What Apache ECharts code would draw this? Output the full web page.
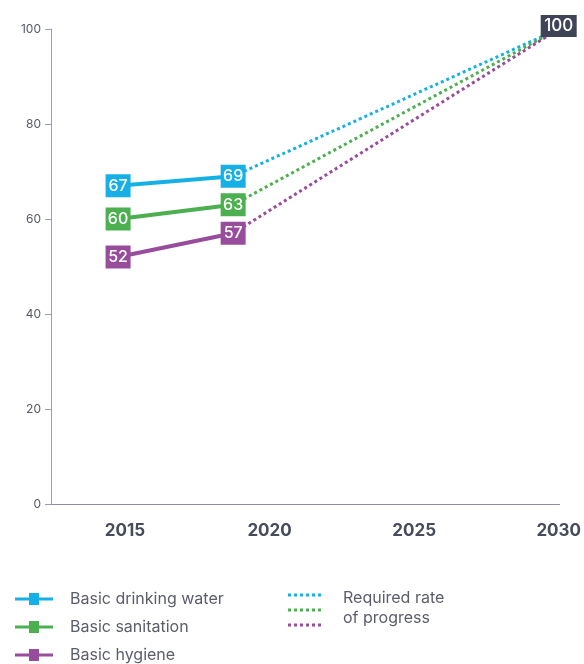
<!DOCTYPE html>
<html><head><meta charset="utf-8">
<script src="https://cdn.jsdelivr.net/npm/echarts@6/dist/echarts.min.js"></script>
<style>html,body{margin:0;padding:0;background:#fff}#c{width:584px;height:664px}</style>
</head><body><div id="c"></div>
<script>
// tick labels on x axis
const tickYears = [2015, 2020, 2025, 2030];
const yTicks = [0, 20, 40, 60, 80, 100];
const obsX = [2014.76, 2018.74];
const targetX = 2030;
const targetValue = 100;
const names = ['Basic drinking water', 'Basic sanitation', 'Basic hygiene'];
const water = [67, 69];
const sanitation = [60, 63];
const hygiene = [52, 57];
const colors = ['#17b0e6', '#4caf50', '#984c9c'];

const values = [water, sanitation, hygiene];
const series = [];
values.forEach((v, i) => {
  series.push({
    name: names[i] + ' (required)', type: 'line', showSymbol: false, silent: true,
    data: [[obsX[1], v[1]], [targetX, targetValue]],
    lineStyle: { color: colors[i], width: 3, type: [3, 3] }, itemStyle: { color: colors[i] }, z: 2
  });
});
values.forEach((v, i) => {
  series.push({
    name: names[i], type: 'line', symbol: 'rect', symbolSize: [25, 23], showSymbol: true,
    data: obsX.map((x, j) => [x, v[j]]),
    lineStyle: { color: colors[i], width: 4 }, itemStyle: { color: colors[i], opacity: 1 },
    label: { show: true, position: 'inside', color: '#fff', fontSize: 16, fontWeight: 500,
      fontFamily: 'Inter', formatter: p => p.value[1] }, z: 5
  });
});
series.push({
  name: 'target', type: 'scatter', symbol: 'rect', symbolSize: [36, 22], symbolOffset: [0, -3],
  data: [[targetX, targetValue]], itemStyle: { color: '#3f4457', opacity: 1 },
  label: { show: true, position: 'inside', color: '#fff', fontSize: 17, fontWeight: 500,
    fontFamily: 'Inter', formatter: p => p.value[1] }, z: 6
});

const legendIcon = 'path://M0,5.5 L14,5.5 L14,1 L24,1 L24,5.5 L38,5.5 L38,8.5 L24,8.5 L24,13 L14,13 L14,8.5 L0,8.5 Z';
const legendTops = [591, 619, 647];
const legends = names.map((n, i) => ({
  data: [n], orient: 'vertical', left: 15, top: legendTops[i], padding: 0,
  itemWidth: 38, itemHeight: 14, icon: legendIcon, selectedMode: false,
  textStyle: { color: '#5b5d6b', fontSize: 16, fontFamily: 'Inter', padding: [0, 0, 0, 12] }
}));

const chart = echarts.init(document.getElementById('c'), null, { renderer: 'canvas' });
chart.setOption({
  animation: false,
  grid: { left: 51, right: 18, top: 29, bottom: 160 },
  xAxis: {
    type: 'value', min: 2012.44, max: 2030.03,
    axisLine: { show: true, lineStyle: { color: '#8f8ea8', width: 1 } },
    axisTick: { show: false }, splitLine: { show: false },
    axisLabel: { customValues: tickYears, formatter: v => String(v), margin: 18, color: '#474b5a', fontSize: 17,
      fontWeight: 'bold', fontFamily: 'Inter' }
  },
  yAxis: {
    type: 'value', min: 0, max: 100, interval: 20,
    axisLine: { show: true, lineStyle: { color: '#9d9cb8', width: 1 } },
    axisTick: { show: true, length: 6, lineStyle: { color: '#9d9cb8' } },
    splitLine: { show: false },
    axisLabel: { customValues: yTicks, margin: 10, color: '#555a66', fontSize: 12, fontFamily: 'Inter' }
  },
  legend: legends,
  graphic: [
    { type: 'line', shape: { x1: 288, y1: 595, x2: 322, y2: 595 }, style: { stroke: colors[0], lineWidth: 3, lineDash: [3, 3] } },
    { type: 'line', shape: { x1: 288, y1: 610, x2: 322, y2: 610 }, style: { stroke: colors[1], lineWidth: 3, lineDash: [3, 3] } },
    { type: 'line', shape: { x1: 288, y1: 625, x2: 322, y2: 625 }, style: { stroke: colors[2], lineWidth: 3, lineDash: [3, 3] } },
    { type: 'text', left: 343, top: 588, style: { text: 'Required rate\nof progress', fill: '#5b5d6b',
      font: '16px Inter', lineHeight: 20 } }
  ],
  series: series
});
</script></body></html>
